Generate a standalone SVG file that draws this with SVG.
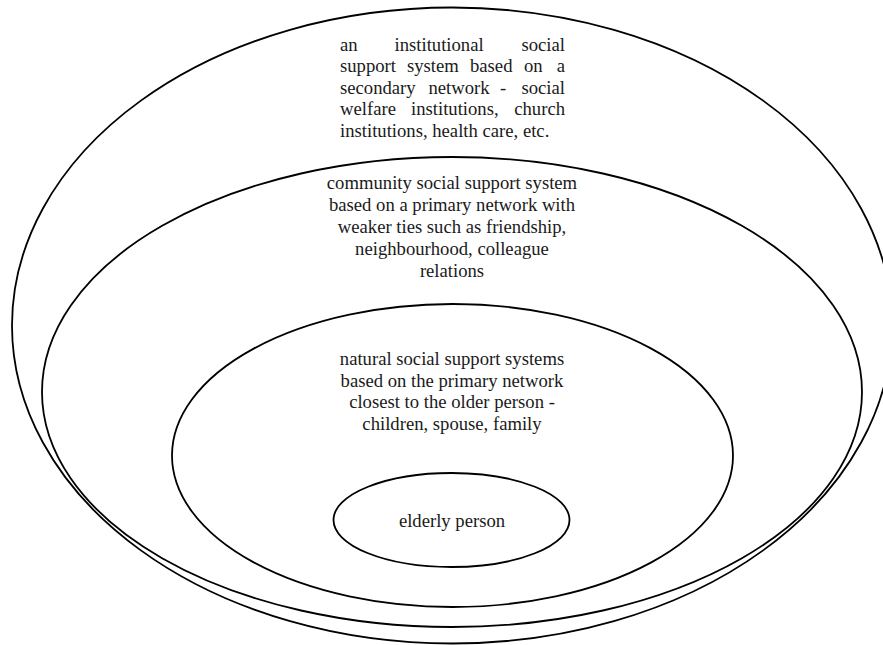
<svg xmlns="http://www.w3.org/2000/svg" width="883" height="645" viewBox="0 0 883 645">
<style>
.ring{fill:none;stroke:#000;stroke-width:1.8}
.t{font-family:"Liberation Serif","Times New Roman",serif;font-size:18.67px;fill:#1a1a1a}
.c{text-anchor:middle}
.e{text-anchor:end}
</style>
<rect width="883" height="645" fill="#fff"/>
<g id="institutional">
<ellipse class="ring" cx="452" cy="325.5" rx="440" ry="318"/>
<text class="t" y="50.5"><tspan x="340">an</tspan><tspan x="394.5">institutional</tspan></text>
<text class="t e" x="565" y="50.5">social</text>
<text class="t" y="72"><tspan x="340">support</tspan><tspan x="407">system</tspan><tspan x="470">based</tspan><tspan x="524">on</tspan></text>
<text class="t e" x="565" y="72">a</text>
<text class="t" y="93.5"><tspan x="340">secondary</tspan><tspan x="428.5">network</tspan><tspan x="500">-</tspan></text>
<text class="t e" x="565" y="93.5">social</text>
<text class="t" y="115"><tspan x="340">welfare</tspan><tspan x="411">institutions,</tspan></text>
<text class="t e" x="565" y="115">church</text>
<text class="t" x="340" y="136.5">institutions, health care, etc.</text>
</g>
<g id="community">
<ellipse class="ring" cx="452" cy="392" rx="410" ry="235"/>
<text class="t c" x="452" y="188.5">community social support system</text>
<text class="t c" x="452" y="210.5">based on a primary network with</text>
<text class="t c" x="452" y="232.5">weaker ties such as friendship,</text>
<text class="t c" x="452" y="254.5">neighbourhood, colleague</text>
<text class="t c" x="452" y="276.5">relations</text>
</g>
<g id="natural">
<ellipse class="ring" cx="452.5" cy="455.5" rx="280.5" ry="151.5"/>
<text class="t c" x="452" y="365">natural social support systems</text>
<text class="t c" x="452" y="386.7">based on the primary network</text>
<text class="t c" x="452" y="408.3">closest to the older person -</text>
<text class="t c" x="452" y="430">children, spouse, family</text>
</g>
<g id="elderly">
<ellipse class="ring" cx="451.5" cy="520" rx="118" ry="47"/>
<text class="t c" x="452" y="527">elderly person</text>
</g>
<g id="connectors"/>
</svg>
